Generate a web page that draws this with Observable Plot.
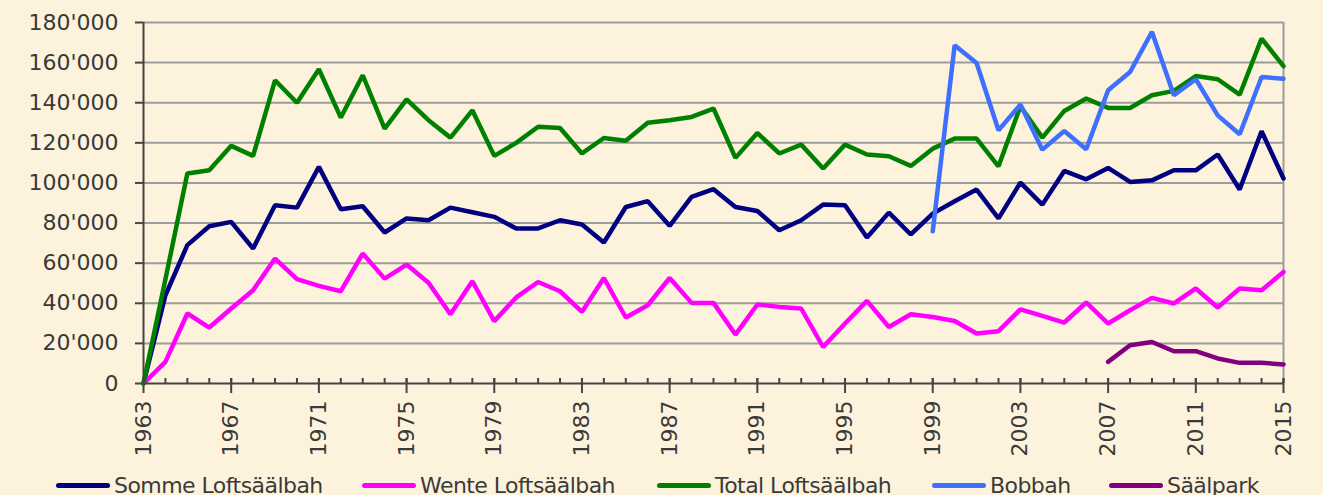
<!DOCTYPE html>
<html>
<head>
<meta charset="utf-8">
<script src="https://cdn.jsdelivr.net/npm/d3@7"></script>
<script src="https://cdn.jsdelivr.net/npm/@observablehq/plot@0.6"></script>
<style>
  html, body { margin: 0; padding: 0; background: #fdf3dc; overflow: hidden; }
  #chart svg { display: block; background: #fdf3dc; }
  #legend { position: relative; height: 40px; font-family: "DejaVu Sans", sans-serif; font-size: 22px; color: #3a3a3a; letter-spacing: -0.55px; }
  .item { position: absolute; top: 8px; display: flex; align-items: center; white-space: nowrap; }
  .swatch { width: 54px; height: 5px; border-radius: 3px; margin-right: 4px; }
</style>
</head>
<body>
<div id="chart"></div>
<div id="legend"></div>
<script>
const years = d3.range(1963, 2016);
const seriesNames = ["Somme Loftsäälbah", "Wente Loftsäälbah", "Total Loftsäälbah", "Bobbah", "Säälpark"];
const seriesColors = ["#000080", "#ff00ff", "#008000", "#3f6fff", "#800080"];

const somme = [0, 44000, 69000, 78400, 80600, 67300, 88900, 87700, 108000, 86900, 88400, 75300, 82300, 81400,
  87700, 85400, 83100, 77300, 77300, 81400, 79300, 70300, 88000, 90900, 78600, 93000, 96900, 88000, 86000,
  76400, 81400, 89200, 88900, 72800, 85200, 74300, 84700, 90900, 96700, 82300, 100200, 89200, 106000, 101800,
  107500, 100500, 101300, 106300, 106300, 114200, 96700, 125800, 102200];
const wente = [0, 10800, 34900, 27900, 37400, 46500, 62300, 52000, 48700, 46000, 64800, 52300, 59300, 50200,
  34500, 51000, 31100, 42900, 50600, 46000, 35700, 52600, 32900, 39000, 52600, 40200, 40200, 24400, 39400,
  38200, 37400, 18200, 29900, 41200, 28200, 34500, 33200, 31200, 24900, 26100, 37000, 33700, 30400, 40400,
  29900, 36500, 42700, 39900, 47400, 37900, 47400, 46500, 55600];
const total = [0, 52000, 104700, 106300, 118500, 113500, 151200, 140000, 156700, 132600, 153700, 127100, 141700, 131300,
  122600, 136200, 113500, 120000, 128000, 127400, 114700, 122400, 121000, 130000, 131300, 132900, 137100, 112500, 124900,
  114700, 119100, 107200, 119100, 114200, 113300, 108500, 117100, 122100, 122100, 108300, 138200, 122600, 135900, 142100,
  137400, 137400, 143700, 145900, 153300, 151700, 144000, 172000, 158200];
const bobbah = [null, null, null, null, null, null, null, null, null, null, null, null, null, null,
  null, null, null, null, null, null, null, null, null, null, null, null, null, null, null,
  null, null, null, null, null, null, null, 75900, 168600, 159800, 126300, 139100, 116600, 125900, 116800,
  146200, 155300, 175300, 143700, 151700, 133700, 124300, 152800, 152000];
const saalpark = [null, null, null, null, null, null, null, null, null, null, null, null, null, null,
  null, null, null, null, null, null, null, null, null, null, null, null, null, null, null,
  null, null, null, null, null, null, null, null, null, null, null, null, null, null, null,
  10800, 19100, 20700, 16100, 16100, 12500, 10300, 10300, 9500];

const yTicks = d3.range(0, 180001, 20000);
const xLabelYears = d3.range(1963, 2016, 4);

const allSeries = [somme, wente, total, bobbah, saalpark];
const rows = [];
allSeries.forEach((vals, i) => {
  years.forEach((yr, j) => {
    if (vals[j] != null) rows.push({year: yr, value: vals[j], series: seriesNames[i]});
  });
});

const fmt = d3.formatLocale({thousands: "'", grouping: [3], decimal: ".", currency: ["", ""]}).format(",");
const textColor = "#3a3a3a";
const axisColor = "#444444";
const gridColor = "#9c9c9c";

const plotHeight = 465;
const mTop = 22, mBottom = 82;
const inner = plotHeight - mTop - mBottom;

const chart = Plot.plot({
  width: 1323,
  height: plotHeight,
  marginTop: mTop,
  marginBottom: mBottom,
  marginLeft: 143,
  marginRight: 40,
  style: {background: "#fdf3dc", fontFamily: "DejaVu Sans, sans-serif", fontSize: "22px", color: textColor, overflow: "visible"},
  x: {domain: [1963, 2015]},
  y: {domain: [0, 180000]},
  color: {domain: seriesNames, range: seriesColors},
  marks: [
    Plot.ruleY(yTicks.filter(d => d > 0), {stroke: gridColor, strokeWidth: 2}),
    Plot.ruleX([2015], {stroke: gridColor, strokeWidth: 2}),
    Plot.axisY({ticks: yTicks, tickFormat: fmt, tickSize: 8, tickPadding: 17, stroke: axisColor, strokeWidth: 2, fill: textColor, fontSize: 22, label: null}),
    Plot.axisX({ticks: xLabelYears, tickFormat: d => String(d), tickSize: 0, tickPadding: 17, tickRotate: -90, fill: textColor, fontSize: 22, label: null}),
    // minor ticks (inside)
    Plot.ruleX(years, {x: d => d, stroke: axisColor, strokeWidth: 2, insetTop: inner - 5}),
    // major ticks (crossing)
    Plot.ruleX(xLabelYears, {x: d => d, stroke: axisColor, strokeWidth: 2, insetTop: inner - 5, insetBottom: -10}),
    Plot.line(rows, {x: "year", y: "value", z: "series", stroke: "series", strokeWidth: 4.5, strokeLinejoin: "miter", strokeLinecap: "round"}),
    Plot.ruleY([0], {stroke: axisColor, strokeWidth: 2}),
    Plot.ruleX([1963], {stroke: axisColor, strokeWidth: 2})
  ]
});
document.getElementById("chart").appendChild(chart);

const legendLefts = [56, 362, 657, 932, 1109];
const legend = document.getElementById("legend");
seriesNames.forEach((name, i) => {
  const item = document.createElement("div");
  item.className = "item";
  item.style.left = legendLefts[i] + "px";
  const sw = document.createElement("div");
  sw.className = "swatch";
  sw.style.background = seriesColors[i];
  const t = document.createElement("span");
  t.textContent = name;
  item.appendChild(sw);
  item.appendChild(t);
  legend.appendChild(item);
});
</script>
</body>
</html>
